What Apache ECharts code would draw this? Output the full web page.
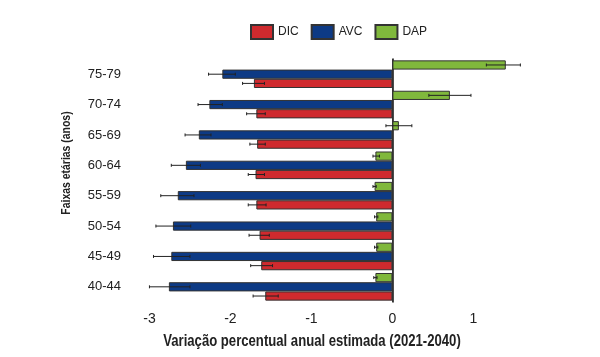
<!DOCTYPE html>
<html>
<head>
<meta charset="utf-8">
<script src="https://cdn.jsdelivr.net/npm/echarts@6/dist/echarts.min.js"></script>
<style>
  html, body { margin: 0; padding: 0; background: #fff; }
  #chart { width: 600px; height: 357px; }
</style>
</head>
<body>
<div id="chart"></div>
<script>
// age groups, bottom to top
const categories = ['40-44', '45-49', '50-54', '55-59', '60-64', '65-69', '70-74', '75-79'];

const dic = [-1.57, -1.62, -1.64, -1.68, -1.69, -1.67, -1.68, -1.71];
const dicLow = [-1.72, -1.75, -1.77, -1.78, -1.78, -1.76, -1.80, -1.85];
const dicHigh = [-1.41, -1.48, -1.52, -1.56, -1.58, -1.57, -1.57, -1.58];

const avc = [-2.76, -2.73, -2.71, -2.65, -2.55, -2.39, -2.26, -2.10];
const avcLow = [-3.00, -2.95, -2.92, -2.86, -2.73, -2.56, -2.40, -2.27];
const avcHigh = [-2.50, -2.50, -2.49, -2.45, -2.37, -2.24, -2.10, -1.94];

const dap = [-0.21, -0.20, -0.20, -0.22, -0.21, 0.08, 0.71, 1.40];
const dapLow = [-0.23, -0.22, -0.22, -0.24, -0.24, -0.08, 0.45, 1.16];
const dapHigh = [-0.19, -0.18, -0.18, -0.20, -0.16, 0.24, 0.97, 1.58];

const xTicks = [-3, -2, -1, 0, 1];

const xTitle = 'Variação percentual anual estimada (2021-2040)';
const yTitle = 'Faixas etárias (anos)';

const font = '"Liberation Sans", Arial, sans-serif';
const catGap = 0.09;

const errData = (lo, hi) => lo.map((v, i) => [i, v, hi[i]]);

// slot: +1 bottom bar, 0 middle, -1 top bar
const errRender = (slot) => (params, api) => {
    const cat = api.value(0);
    const a = api.coord([api.value(1), cat]);
    const b = api.coord([api.value(2), cat]);
    const band = api.size([0, 1])[1];
    const bw = band * (1 - catGap) / 3;
    const y = a[1] + slot * bw;
    const cap = 1.5;
    const style = { stroke: '#222', lineWidth: 1 };
    return {
        type: 'group',
        children: [
            { type: 'line', shape: { x1: a[0], y1: y, x2: b[0], y2: y }, style },
            { type: 'line', shape: { x1: a[0], y1: y - cap, x2: a[0], y2: y + cap }, style },
            { type: 'line', shape: { x1: b[0], y1: y - cap, x2: b[0], y2: y + cap }, style }
        ]
    };
};

const barStyle = (c) => ({ color: c, borderColor: '#333', borderWidth: 1 });
const gapPct = (catGap * 100) + '%';

const chart = echarts.init(document.getElementById('chart'));
chart.setOption({
    animation: false,
    legend: {
        data: ['DIC', 'AVC', 'DAP'],
        left: 245,
        top: 19,
        icon: 'rect',
        itemWidth: 22,
        itemHeight: 14,
        itemGap: 12,
        textStyle: { fontFamily: font, fontSize: 12, color: '#222' }
    },
    grid: { left: 130, right: 61, top: 59, bottom: 55 },
    xAxis: {
        type: 'value',
        min: -3.24,
        max: 1.81,
        splitLine: { show: false },
        axisLine: { lineStyle: { color: '#111', width: 1.5 } },
        axisTick: { customValues: xTicks, length: 5, lineStyle: { color: '#111', width: 1.5 } },
        axisLabel: { customValues: xTicks, fontFamily: font, fontSize: 14, color: '#222', margin: 10 }
    },
    yAxis: {
        type: 'category',
        data: categories,
        axisLine: { lineStyle: { color: '#111', width: 1.5 } },
        axisTick: { alignWithLabel: true, length: 4, lineStyle: { color: '#111', width: 1.5 } },
        axisLabel: { fontFamily: font, fontSize: 13, color: '#222', margin: 9 }
    },
    // axis titles are set in a condensed bold face in the original, so squeeze them
    graphic: [
        {
            type: 'text', x: 312, y: 342, scaleX: 0.82,
            style: {
                text: xTitle, fontFamily: font, fontSize: 16, fontWeight: 'bold', fill: '#222',
                align: 'center', verticalAlign: 'middle'
            }
        },
        {
            type: 'text', x: 67, y: 163, rotation: Math.PI / 2, scaleX: 0.87,
            style: {
                text: yTitle, fontFamily: font, fontSize: 12, fontWeight: 'bold', fill: '#222',
                align: 'center', verticalAlign: 'middle'
            }
        }
    ],
    series: [
        {
            name: 'DAP', type: 'bar', data: dap,
            barCategoryGap: gapPct, barGap: '0%',
            itemStyle: barStyle('#80b83c')
        },
        {
            name: 'AVC', type: 'bar', data: avc,
            barCategoryGap: gapPct, barGap: '0%',
            itemStyle: barStyle('#0d3a85'),
            markLine: {
                silent: true, symbol: 'none', label: { show: false },
                lineStyle: { color: '#333', width: 1, type: 'solid' },
                data: [{ xAxis: 0 }]
            }
        },
        {
            name: 'DIC', type: 'bar', data: dic,
            barCategoryGap: gapPct, barGap: '0%',
            itemStyle: barStyle('#cf2a2e')
        },
        { type: 'custom', renderItem: errRender(1), encode: { x: [1, 2], y: 0 }, data: errData(dicLow, dicHigh), z: 5 },
        { type: 'custom', renderItem: errRender(0), encode: { x: [1, 2], y: 0 }, data: errData(avcLow, avcHigh), z: 5 },
        { type: 'custom', renderItem: errRender(-1), encode: { x: [1, 2], y: 0 }, data: errData(dapLow, dapHigh), z: 5 }
    ]
});
</script>
</body>
</html>
